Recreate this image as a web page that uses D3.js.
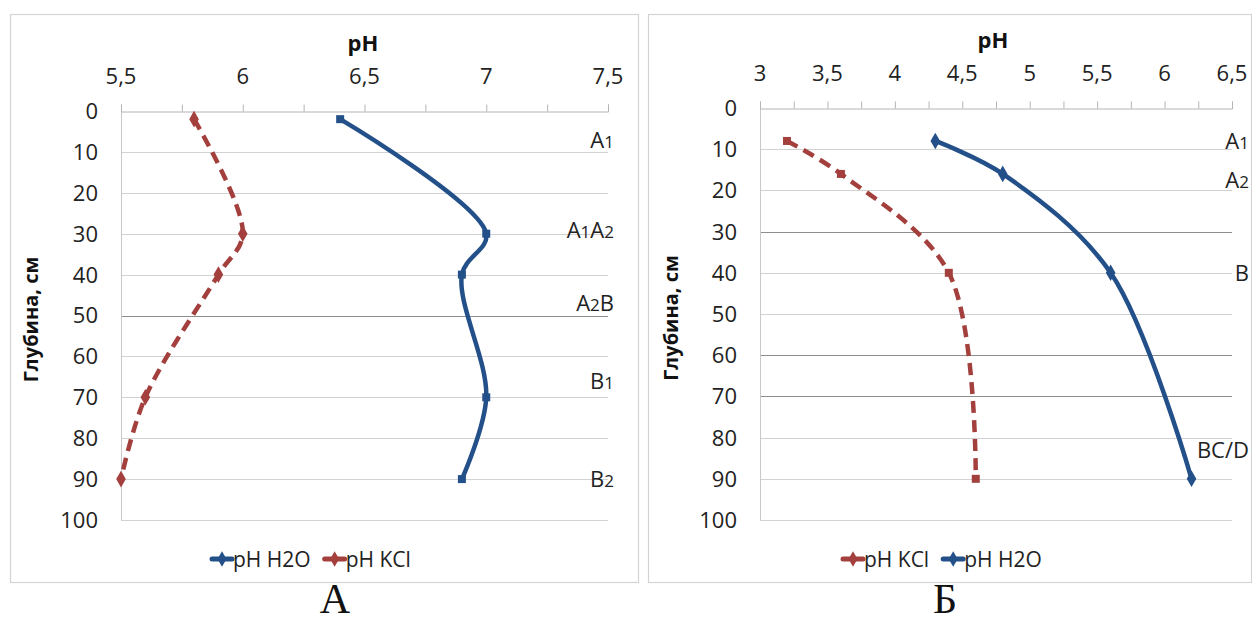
<!DOCTYPE html>
<html>
<head>
<meta charset="utf-8">
<script src="https://cdnjs.cloudflare.com/ajax/libs/d3/7.8.5/d3.min.js"></script>
<style>
  html, body { margin: 0; padding: 0; background: #fff; }
  svg { display: block; }
</style>
</head>
<body>
<svg id="chart" width="1252" height="624"></svg>
<script>
// ---- Profile A: depth (cm) and pH ----
const depthA = [2, 30, 40, 70, 90];
const phA_H2O = [6.4, 7.0, 6.9, 7.0, 6.9];
const phA_KCl = [5.8, 6.0, 5.9, 5.6, 5.5];
const horizonA_names = ["A1", "A1A2", "A2B", "B1", "B2"];
const horizonA_depths = [7, 29, 47, 66, 90];
const xTicksA = [5.5, 6, 6.5, 7, 7.5];

// ---- Profile Б: depth (cm) and pH ----
const depthB = [8, 16, 40, 90];
const phB_KCl = [3.2, 3.6, 4.4, 4.6];
const phB_H2O = [4.3, 4.8, 5.6, 6.2];
const horizonB_names = ["A1", "A2", "B", "BC/D"];
const horizonB_depths = [8, 17.5, 40, 83];
const xTicksB = [3, 3.5, 4, 4.5, 5, 5.5, 6, 6.5];

const depthTicks = [0, 10, 20, 30, 40, 50, 60, 70, 80, 90, 100];

const BLUE = "#24508a";
const RED = "#a3403d";
const FONT = "'Open Sans', 'Noto Sans', sans-serif";

const svg = d3.select("#chart");
const fmt = v => String(v).replace(".", ",");

function drawPanel(cfg) {
  const g = svg.append("g");

  // outer frame
  g.append("rect")
    .attr("x", cfg.box.x + 0.5).attr("y", cfg.box.y + 0.5)
    .attr("width", cfg.box.w).attr("height", cfg.box.h)
    .attr("fill", "#fff").attr("stroke", "#d4d4d4").attr("stroke-width", 1.2);

  const x = d3.scaleLinear().domain(cfg.xDomain).range([cfg.plot.l, cfg.plot.r]);
  const y = d3.scaleLinear().domain([0, 100]).range([cfg.plot.t, cfg.plot.b]);

  // horizontal gridlines
  g.append("g").selectAll("line").data(depthTicks.slice(1)).join("line")
    .attr("x1", cfg.plot.l).attr("x2", cfg.plot.r)
    .attr("y1", d => Math.round(y(d)) + 0.5).attr("y2", d => Math.round(y(d)) + 0.5)
    .attr("stroke", d => cfg.darkGrid.includes(d) ? "#8e8e8e" : "#d2d2d2")
    .attr("stroke-width", 1);

  // vertical axis line
  g.append("line")
    .attr("x1", cfg.plot.l + 0.5).attr("x2", cfg.plot.l + 0.5)
    .attr("y1", cfg.plot.t).attr("y2", cfg.plot.b)
    .attr("stroke", "#c8c8c8");

  // top pH axis with minor ticks every 0.25
  const minor = d3.range(cfg.xDomain[0], cfg.xDomain[1] + 0.001, 0.25);
  const topAxis = d3.axisTop(x).tickValues(minor).tickSize(7).tickFormat("");
  const ax = g.append("g")
    .attr("transform", `translate(0,${Math.round(y(0)) + 0.5})`)
    .call(topAxis);
  ax.select(".domain").attr("stroke", "#b4b4b4");
  ax.selectAll(".tick line").attr("stroke", "#b4b4b4");

  // pH tick labels
  g.append("g").selectAll("text").data(cfg.xTicks).join("text")
    .attr("x", d => x(d)).attr("y", cfg.plot.t - 27)
    .attr("text-anchor", "middle")
    .attr("font-family", FONT).attr("font-size", 22).attr("fill", "#222")
    .text(fmt);

  // depth tick labels
  g.append("g").selectAll("text").data(depthTicks).join("text")
    .attr("x", cfg.plot.l - 23).attr("y", d => y(d))
    .attr("dy", "0.36em")
    .attr("text-anchor", "end")
    .attr("font-family", FONT).attr("font-size", 22).attr("fill", "#222")
    .text(d => d);

  // axis titles
  g.append("text")
    .attr("x", cfg.titleX).attr("y", cfg.plot.t - 60)
    .attr("text-anchor", "middle")
    .attr("font-family", FONT).attr("font-size", 22).attr("font-weight", "bold")
    .attr("fill", "#111").text("pH");

  g.append("text")
    .attr("transform", `translate(${cfg.yTitleX},${(cfg.plot.t + cfg.plot.b) / 2 + 4}) rotate(-90)`)
    .attr("text-anchor", "middle")
    .attr("font-family", FONT).attr("font-size", 20).attr("font-weight", "bold")
    .attr("fill", "#111").text("Глубина, см");

  // horizon labels with subscript digits
  const hz = g.append("g").selectAll("text")
    .data(cfg.horizonNames.map((n, i) => ({ name: n, depth: cfg.horizonDepths[i] })))
    .join("text")
    .attr("x", cfg.plot.r + cfg.labelPad).attr("y", d => y(d.depth))
    .attr("dy", "0.36em")
    .attr("text-anchor", "end")
    .attr("font-family", FONT).attr("font-size", 22).attr("fill", "#222");
  hz.each(function (d) {
    const t = d3.select(this);
    d.name.split(/(\d)/).filter(s => s.length).forEach(part => {
      const ts = t.append("tspan").text(part);
      if (/\d/.test(part)) ts.attr("font-size", 17);
    });
  });

  // series
  cfg.series.forEach(s => {
    const pts = s.depth.map((dv, i) => [x(s.ph[i]), y(dv)]);
    const line = d3.line().curve(d3.curveCatmullRom.alpha(0.5));
    g.append("path")
      .attr("d", line(pts))
      .attr("fill", "none").attr("stroke", s.color).attr("stroke-width", 4.5)
      .attr("stroke-dasharray", s.dashed ? "12,7" : null)
      .attr("stroke-linejoin", "round");
    const sym = d3.symbol().type(s.symbol).size(s.symbol === d3.symbolSquare ? 64 : 80);
    g.append("g").selectAll("path").data(pts).join("path")
      .attr("transform", p => `translate(${p[0]},${p[1]})`)
      .attr("d", sym()).attr("fill", s.color);
  });

  // legend
  const leg = g.append("g");
  let lx = cfg.legendX;
  cfg.legendOrder.forEach(s => {
    leg.append("line")
      .attr("x1", lx).attr("x2", lx + 20)
      .attr("y1", cfg.legendY).attr("y2", cfg.legendY)
      .attr("stroke", s.color).attr("stroke-width", 5).attr("stroke-linecap", "round");
    leg.append("path")
      .attr("transform", `translate(${lx + 10},${cfg.legendY})`)
      .attr("d", d3.symbol().type(d3.symbolDiamond).size(70)()).attr("fill", s.color);
    const t = leg.append("text")
      .attr("x", lx + 21).attr("y", cfg.legendY).attr("dy", "0.36em")
      .attr("font-family", FONT).attr("font-size", 21).attr("fill", "#222")
      .text(s.name);
    lx += 21 + t.node().getComputedTextLength() + 14;
  });

  // panel caption
  svg.append("text")
    .attr("x", cfg.captionX).attr("y", 613)
    .attr("text-anchor", "middle")
    .attr("font-family", "'Liberation Serif', 'DejaVu Serif', serif")
    .attr("font-size", 42).attr("fill", "#111")
    .text(cfg.caption);
}

const h2oA = { name: "pH H2O", depth: depthA, ph: phA_H2O, color: BLUE, dashed: false, symbol: d3.symbolSquare };
const kclA = { name: "pH KCl", depth: depthA, ph: phA_KCl, color: RED, dashed: true, symbol: d3.symbolDiamond };
const kclB = { name: "pH KCl", depth: depthB, ph: phB_KCl, color: RED, dashed: true, symbol: d3.symbolSquare };
const h2oB = { name: "pH H2O", depth: depthB, ph: phB_H2O, color: BLUE, dashed: false, symbol: d3.symbolDiamond };

drawPanel({
  box: { x: 10, y: 14, w: 628, h: 568 },
  plot: { l: 121, r: 608, t: 111, b: 520 },
  xDomain: [5.5, 7.5], xTicks: xTicksA,
  titleX: 363, yTitleX: 38,
  horizonNames: horizonA_names, horizonDepths: horizonA_depths, labelPad: 6,
  darkGrid: [50],
  series: [kclA, h2oA], legendOrder: [h2oA, kclA],
  legendX: 212, legendY: 559,
  caption: "А", captionX: 335
});

drawPanel({
  box: { x: 648, y: 14, w: 603, h: 568 },
  plot: { l: 760, r: 1232, t: 108, b: 520 },
  xDomain: [3, 6.5], xTicks: xTicksB,
  titleX: 993, yTitleX: 678,
  horizonNames: horizonB_names, horizonDepths: horizonB_depths, labelPad: 17,
  darkGrid: [30, 60, 70],
  series: [kclB, h2oB], legendOrder: [kclB, h2oB],
  legendX: 843, legendY: 559,
  caption: "Б", captionX: 945
});
</script>
</body>
</html>
